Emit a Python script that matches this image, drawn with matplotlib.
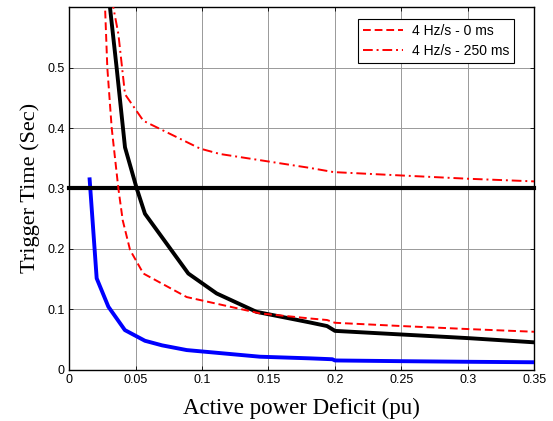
import matplotlib
matplotlib.use("Agg")
import matplotlib.pyplot as plt

# Blue curve
blue_x = [0.0155, 0.0208, 0.0296, 0.042, 0.0571, 0.07, 0.0885, 0.1436, 0.181, 0.198, 0.2, 0.25, 0.3, 0.35]
blue_y = [0.315, 0.151, 0.104, 0.0653, 0.0476, 0.040, 0.0322, 0.0212, 0.0185, 0.017, 0.015, 0.0138, 0.0128, 0.012]

# Black curve
black_x = [0.0295, 0.0308, 0.0358, 0.0421, 0.0509, 0.0571, 0.0897, 0.111, 0.141, 0.181, 0.194, 0.2, 0.25, 0.3, 0.35]
black_y = [0.63, 0.6, 0.5, 0.368, 0.3, 0.258, 0.159, 0.126, 0.0955, 0.078, 0.072, 0.064, 0.058, 0.052, 0.045]

# Red dashed: 4 Hz/s - 0 ms
red0_x = [0.026, 0.0271, 0.0288, 0.0321, 0.0371, 0.0404, 0.0459, 0.0559, 0.0885, 0.1436, 0.181, 0.194, 0.2, 0.25, 0.3, 0.35]
red0_y = [0.65, 0.6, 0.5, 0.4, 0.3, 0.247, 0.198, 0.159, 0.120, 0.093, 0.0846, 0.082, 0.0774, 0.072, 0.067, 0.0625]

# Red dash-dot: 4 Hz/s - 250 ms
red250_x = [0.031, 0.0333, 0.0371, 0.0421, 0.0559, 0.0985, 0.1135, 0.181, 0.199, 0.249, 0.3, 0.35]
red250_y = [0.66, 0.6, 0.556, 0.456, 0.412, 0.366, 0.357, 0.334, 0.327, 0.3215, 0.316, 0.3116]

# Threshold line
thr_x = [0.0, 0.35]
thr_y = [0.3, 0.3]

xticks = [0, 0.05, 0.1, 0.15, 0.2, 0.25, 0.3, 0.35]
xticklabels = ["0", "0.05", "0.1", "0.15", "0.2", "0.25", "0.3", "0.35"]
yticks = [0, 0.1, 0.2, 0.3, 0.4, 0.5]
yticklabels = ["0", "0.1", "0.2", "0.3", "0.4", "0.5"]

fig = plt.figure(figsize=(5.53, 4.21), dpi=100)
ax = fig.add_axes([0.1248, 0.1223, 0.8417, 0.8604])

ax.plot(blue_x, blue_y, color="#0000ff", lw=2.8, solid_joinstyle="round", zorder=3)
ax.plot(black_x, black_y, color="black", lw=2.8, solid_joinstyle="round", zorder=3)
ax.plot(thr_x, thr_y, color="black", lw=3.0, zorder=3, clip_on=False)
l1, = ax.plot(red0_x, red0_y, color="#ff0000", lw=1.4, ls=(0, (4, 2)), zorder=4, label="4 Hz/s - 0 ms")
l2, = ax.plot(red250_x, red250_y, color="#ff0000", lw=1.4, ls=(0, (5, 2, 1, 2)), zorder=4, label="4 Hz/s - 250 ms")

ax.set_xlim(0, 0.35)
ax.set_ylim(0, 0.6)
ax.set_xticks(xticks)
ax.set_xticklabels(xticklabels, family="Liberation Sans", fontsize=9)
ax.set_yticks(yticks)
ax.set_yticklabels(yticklabels, family="Liberation Sans", fontsize=9)
ax.tick_params(direction="in", length=3, width=0.6, top=True, right=True, pad=3)
ax.grid(True, color="#999999", lw=0.7, ls="-")
for s in ax.spines.values():
    s.set_linewidth(1.0)

ax.set_xlabel("Active power Deficit (pu)", family="Liberation Serif", fontsize=16.5, labelpad=8.5)
ax.set_ylabel("Trigger Time (Sec)", family="Liberation Serif", fontsize=16, labelpad=5.5)

leg = ax.legend(handles=[l1, l2], loc="upper right", bbox_to_anchor=(0.956, 0.967),
                prop={"family": "Liberation Sans", "size": 10}, frameon=True,
                fancybox=False, edgecolor="black", framealpha=1, handlelength=2.9,
                borderpad=0.35, labelspacing=0.4, borderaxespad=0, handletextpad=0.6)
leg.get_frame().set_linewidth(0.8)

fig.savefig("out.png", dpi=100)
